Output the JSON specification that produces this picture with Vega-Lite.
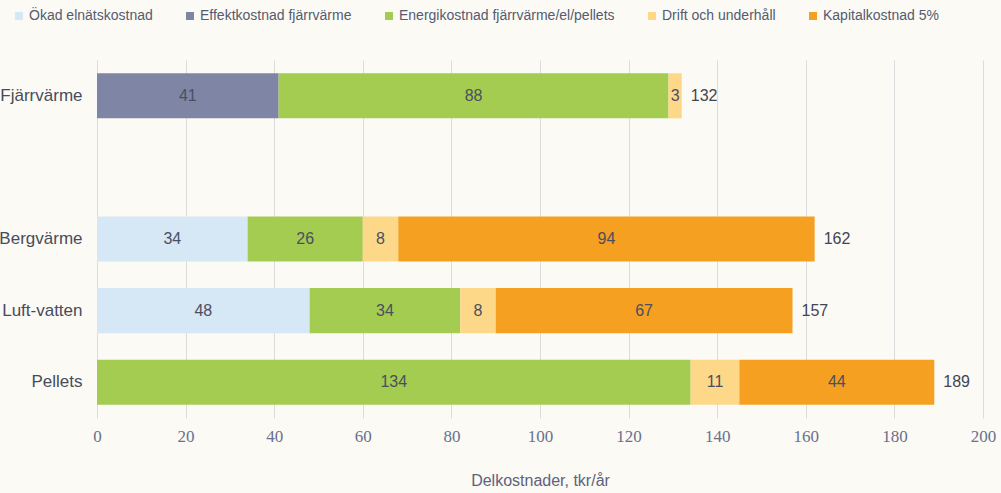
{
  "$schema": "https://vega.github.io/schema/vega-lite/v6.json",
  "width": 886,
  "height": 358,
  "autosize": "none",
  "padding": {"left": 97, "top": 60, "right": 18, "bottom": 75},
  "background": "#fcfaf4",
  "config": {
    "view": {"stroke": null},
    "font": "Liberation Sans"
  },
  "data": {
    "values": [
      {"cat": "Fjärrvärme", "component": "Effektkostnad fjärrvärme", "idx": 2, "value": 41},
      {"cat": "Fjärrvärme", "component": "Energikostnad fjärrvärme/el/pellets", "idx": 3, "value": 88},
      {"cat": "Fjärrvärme", "component": "Drift och underhåll", "idx": 4, "value": 3},
      {"cat": "Bergvärme", "component": "Ökad elnätskostnad", "idx": 1, "value": 34},
      {"cat": "Bergvärme", "component": "Energikostnad fjärrvärme/el/pellets", "idx": 3, "value": 26},
      {"cat": "Bergvärme", "component": "Drift och underhåll", "idx": 4, "value": 8},
      {"cat": "Bergvärme", "component": "Kapitalkostnad 5%", "idx": 5, "value": 94},
      {"cat": "Luft-vatten", "component": "Ökad elnätskostnad", "idx": 1, "value": 48},
      {"cat": "Luft-vatten", "component": "Energikostnad fjärrvärme/el/pellets", "idx": 3, "value": 34},
      {"cat": "Luft-vatten", "component": "Drift och underhåll", "idx": 4, "value": 8},
      {"cat": "Luft-vatten", "component": "Kapitalkostnad 5%", "idx": 5, "value": 67},
      {"cat": "Pellets", "component": "Energikostnad fjärrvärme/el/pellets", "idx": 3, "value": 134},
      {"cat": "Pellets", "component": "Drift och underhåll", "idx": 4, "value": 11},
      {"cat": "Pellets", "component": "Kapitalkostnad 5%", "idx": 5, "value": 44}
    ]
  },
  "encoding": {
    "y": {
      "field": "cat",
      "type": "nominal",
      "scale": {"domain": ["Fjärrvärme", " ", "Bergvärme", "Luft-vatten", "Pellets"], "paddingInner": 0.37, "paddingOuter": 0.185},
      "axis": {"title": null, "ticks": false, "domain": false, "labelFontSize": 17, "labelColor": "#474c5c", "labelPadding": 15}
    }
  },
  "layer": [
    {
      "transform": [
        {"stack": "value", "groupby": ["cat"], "sort": [{"field": "idx"}], "as": ["x0", "x1"]}
      ],
      "layer": [
        {
          "mark": {"type": "bar"},
          "encoding": {
            "x": {
              "field": "x0",
              "type": "quantitative",
              "scale": {"domain": [0, 200]},
              "axis": {
                "values": [0, 20, 40, 60, 80, 100, 120, 140, 160, 180, 200],
                "title": "Delkostnader, tkr/år",
                "titleFontSize": 16,
                "titleFontWeight": "normal",
                "titleColor": "#5c6280",
                "titlePadding": 28,
                "labelFontSize": 17,
                "labelColor": "#6a7090",
                "labelFont": "Liberation Sans Narrow",
                "labelPadding": 10,
                "labelFlush": false,
                "ticks": false,
                "domain": false,
                "grid": true,
                "gridColor": "#dcdcdc",
                "gridWidth": 1
              }
            },
            "x2": {"field": "x1"},
            "color": {
              "field": "component",
              "type": "nominal",
              "scale": {
                "domain": ["Ökad elnätskostnad", "Effektkostnad fjärrvärme", "Energikostnad fjärrvärme/el/pellets", "Drift och underhåll", "Kapitalkostnad 5%"],
                "range": ["#d6e7f5", "#7f86a5", "#a4cc50", "#fdd889", "#f5a020"]
              },
              "legend": {
                "title": null,
                "orient": "none",
                "direction": "horizontal",
                "legendX": -85,
                "legendY": -51,
                "symbolType": "square",
                "symbolSize": 64,
                "symbolStrokeWidth": 0,
                "labelFontSize": 14,
                "labelColor": "#555b70",
                "labelOffset": 3,
                "labelLimit": 400,
                "columnPadding": 30,
                "columns": 5
              }
            }
          }
        },
        {
          "transform": [{"calculate": "(datum.x0 + datum.x1) / 2", "as": "xm"}],
          "mark": {"type": "text", "fontSize": 16, "color": "#4a4f60"},
          "encoding": {
            "x": {"field": "xm", "type": "quantitative"},
            "text": {"field": "value", "type": "quantitative"}
          }
        }
      ]
    },
    {
      "mark": {"type": "text", "align": "left", "dx": 9, "fontSize": 16, "color": "#404555"},
      "encoding": {
        "x": {"aggregate": "sum", "field": "value", "type": "quantitative"},
        "text": {"aggregate": "sum", "field": "value", "type": "quantitative"}
      }
    }
  ]
}
